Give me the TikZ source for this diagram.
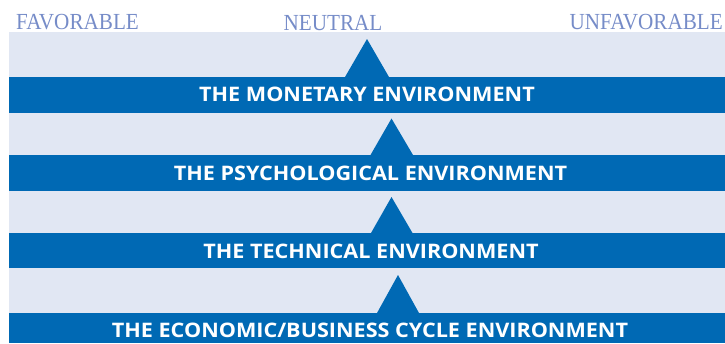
\documentclass[tikz,border=0pt]{standalone}
\usepackage{fontspec}
\newfontfamily\bandfont[FakeStretch=1.08]{Open Sans}
\newfontfamily\labfont[FakeStretch=0.92]{Liberation Serif}
\definecolor{darkblue}{RGB}{0,105,180}
\definecolor{lightband}{RGB}{225,231,243}
\definecolor{labblue}{RGB}{118,140,200}
\begin{document}
\begin{tikzpicture}[x=1pt,y=-1pt,
  bandbox/.style={fill=darkblue,draw=none,inner sep=0pt,minimum width=716pt,anchor=north west},
  bandtext/.style={text=white,font=\bandfont\bfseries\fontsize{20}{20}\selectfont,anchor=base,inner sep=0pt},
  toplabel/.style={text=labblue,font=\labfont\fontsize{23}{23}\selectfont,anchor=base,inner sep=0pt},
  uptri/.style={fill=darkblue}]
\useasboundingbox (0,0) rectangle (725,343);
\fill[lightband] (9,32) rectangle (725,343);
% bands
\node[bandbox,minimum height=36pt] (b1) at (9,77) {};
\node[bandbox,minimum height=36pt] (b2) at (9,155) {};
\node[bandbox,minimum height=35pt] (b3) at (9,233) {};
\node[bandbox,minimum height=30pt] (b4) at (9,313) {};
% triangles
\fill[uptri] (345,77) -- (367,39) -- (389,77) -- cycle;
\fill[uptri] (370.5,155) -- (391.5,118.5) -- (413,155) -- cycle;
\fill[uptri] (371,233) -- (391.5,197) -- (412.5,233) -- cycle;
\fill[uptri] (377,313) -- (398,275) -- (419,313) -- cycle;
% band texts
\node[bandtext] (t1) at (367,101.7) {THE MONETARY ENVIRONMENT};
\node[bandtext] (t2) at (370.5,180.3) {THE PSYCHOLOGICAL ENVIRONMENT};
\node[bandtext] (t3) at (371,258.3) {THE TECHNICAL ENVIRONMENT};
\node[bandtext] (t4) at (370,337.3) {THE ECONOMIC/BUSINESS CYCLE ENVIRONMENT};
% top labels
\node[toplabel,anchor=base west] (fav) at (16,29) {FAVORABLE};
\node[toplabel] (neu) at (333,30) {NEUTRAL};
\node[toplabel,anchor=base east] (unf) at (723,29) {UNFAVORABLE};
\end{tikzpicture}
\end{document}
